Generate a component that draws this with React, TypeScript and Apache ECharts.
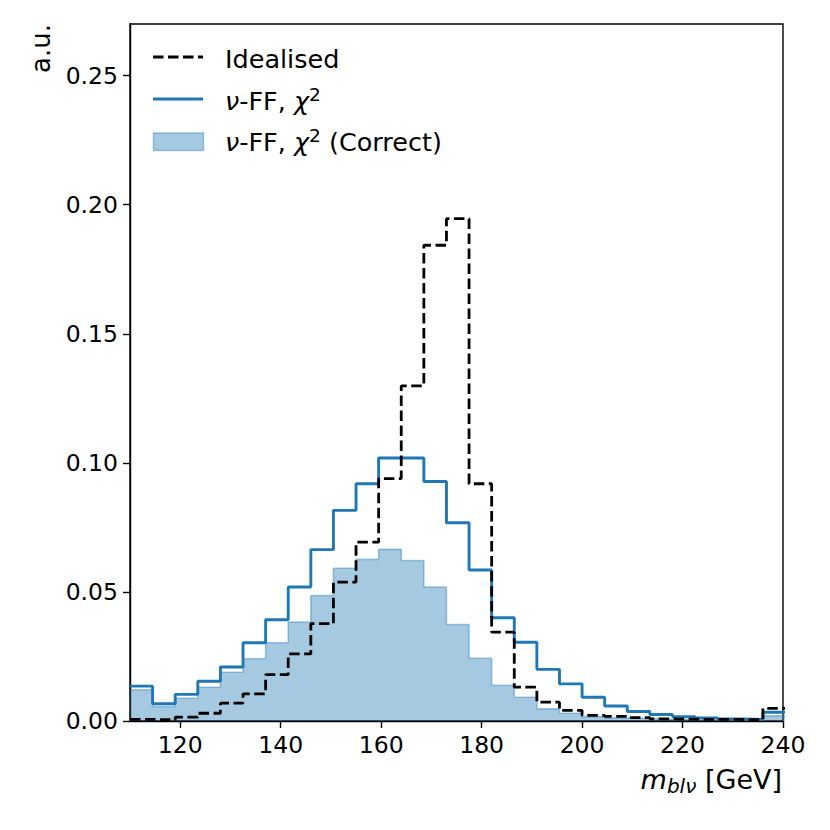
import React, { useEffect, useRef } from "react";
import * as echarts from "echarts";

// Histogram bin edges (GeV) and per-bin heights (a.u.)
const binEdges = [
  110, 114.5, 119, 123.5, 128, 132.5, 137, 141.5, 146, 150.5, 155, 159.5, 164, 168.5, 173,
  177.5, 182, 186.5, 191, 195.5, 200, 204.5, 209, 213.5, 218, 222.5, 227, 231.5, 236, 240.5,
];
const idealised = [
  0.0006, 0.0005, 0.0015, 0.003, 0.0069, 0.0105, 0.018, 0.026, 0.0377, 0.0538, 0.0693, 0.0939,
  0.1298, 0.1843, 0.1946, 0.0919, 0.0344, 0.0131, 0.0073, 0.0041, 0.0022, 0.0018, 0.0013,
  0.0008, 0.0007, 0.0006, 0.0006, 0.0005, 0.0049,
];
const nuFFChi2 = [
  0.0135, 0.0067, 0.0103, 0.0154, 0.0209, 0.0303, 0.0392, 0.0519, 0.0664, 0.0816, 0.0919,
  0.1019, 0.1019, 0.0928, 0.0768, 0.0585, 0.04, 0.0305, 0.02, 0.0144, 0.0092, 0.0058, 0.0037,
  0.0025, 0.0017, 0.0012, 0.0008, 0.0006, 0.0034,
];
const nuFFChi2Correct = [
  0.0121, 0.0056, 0.0088, 0.0131, 0.0189, 0.0241, 0.0303, 0.0383, 0.0486, 0.0592, 0.0626,
  0.0665, 0.0622, 0.0519, 0.0374, 0.0243, 0.0138, 0.0092, 0.0047, 0.003, 0.0017, 0.0012, 0.001,
  0.0008, 0.0006, 0.0005, 0.0004, 0.0004, 0.002,
];
const xTicks = [120, 140, 160, 180, 200, 220, 240];
const yTicks = [0, 0.05, 0.1, 0.15, 0.2, 0.25];

const FONT = '"DejaVu Sans"';
const BLUE = "#1f77b4";
const BLUE_A = "rgba(31,119,180,0.4)";

function stepData(vals: number[]) {
  return binEdges.map((e, i) => [e, vals[Math.min(i, vals.length - 1)]]);
}

type Run = { t: string; size: number; it?: boolean; dy?: number };

function makeRuns(runs: Run[], x: number, y: number, align: "left" | "right") {
  const ctx = document.createElement("canvas").getContext("2d")!;
  const widths = runs.map((r) => {
    ctx.font = `${r.it ? "italic " : ""}${r.size}px ${FONT}`;
    return ctx.measureText(r.t).width;
  });
  const total = widths.reduce((a, b) => a + b, 0);
  let cx = align === "right" ? x - total : x;
  return runs.map((r, i) => {
    const el = {
      type: "text",
      x: cx,
      y: y + (r.dy || 0),
      silent: true,
      style: {
        text: r.t,
        fontSize: r.size,
        fontFamily: FONT,
        fontStyle: r.it ? "italic" : "normal",
        fill: "#000",
        textAlign: "left",
        textVerticalAlign: "middle",
      },
    };
    cx += widths[i];
    return el;
  });
}

export default function App() {
  const ref = useRef<HTMLDivElement>(null);
  useEffect(() => {
    document.body.style.margin = "0";
    const chart = echarts.init(ref.current!, undefined, { renderer: "svg" });
    const LS = 25.5;
    const legendX = 225;
    const rows = [58.5, 100.5, 141.5];
    const nuRuns = (extra: string): Run[] => {
      const r: Run[] = [
        { t: "ν", size: LS, it: true },
        { t: "-FF, ", size: LS },
        { t: "χ", size: LS, it: true },
        { t: "2", size: 18.5, dy: -6.5 },
      ];
      if (extra) r.push({ t: extra, size: LS });
      return r;
    };
    const graphic: any[] = [
      {
        type: "line",
        silent: true,
        shape: { x1: 153, y1: 57, x2: 203, y2: 57 },
        style: { stroke: "#000", lineWidth: 2.8, lineDash: [10.5, 4.5] },
      },
      ...makeRuns([{ t: "Idealised", size: LS }], legendX, rows[0], "left"),
      {
        type: "line",
        silent: true,
        shape: { x1: 153, y1: 99, x2: 203, y2: 99 },
        style: { stroke: BLUE, lineWidth: 2.9 },
      },
      ...makeRuns(nuRuns(""), legendX, rows[1], "left"),
      {
        type: "rect",
        silent: true,
        shape: { x: 153.5, y: 133, width: 50, height: 17.5 },
        style: { fill: BLUE_A, stroke: BLUE_A, lineWidth: 1.5 },
      },
      ...makeRuns(nuRuns(" (Correct)"), legendX, rows[2], "left"),
      ...makeRuns(
        [
          { t: "m", size: 27, it: true },
          { t: "blν", size: 20, it: true, dy: 7 },
          { t: " [GeV]", size: 27 },
        ],
        782,
        779,
        "right"
      ),
      {
        type: "text",
        x: 41,
        y: 24,
        rotation: Math.PI / 2,
        silent: true,
        style: {
          text: "a.u.",
          fontSize: 26,
          fontFamily: FONT,
          fill: "#000",
          textAlign: "right",
          textVerticalAlign: "middle",
        },
      },
    ];

    chart.setOption({
      animation: false,
      backgroundColor: "#fff",
      grid: {
        left: 130,
        right: 47,
        top: 24,
        bottom: 109,
        show: true,
        borderColor: "#000",
        borderWidth: 1.4,
        backgroundColor: "transparent",
      },
      xAxis: {
        type: "value",
        min: 110,
        max: 240,
        splitLine: { show: false },
        axisLine: { show: true, onZero: false, lineStyle: { color: "#000", width: 1.4 } },
        axisTick: {
          show: true,
          length: 7,
          inside: false,
          customValues: xTicks,
          lineStyle: { color: "#000", width: 1.4 },
        },
        axisLabel: {
          show: true,
          customValues: xTicks,
          fontSize: 23.5,
          fontFamily: FONT,
          color: "#000",
          margin: 12,
          formatter: (v: number) => String(v),
        },
      },
      yAxis: {
        type: "value",
        min: 0,
        max: 0.27,
        splitLine: { show: false },
        axisLine: { show: true, onZero: false, lineStyle: { color: "#000", width: 1.4 } },
        axisTick: {
          show: true,
          length: 7,
          inside: false,
          customValues: yTicks,
          lineStyle: { color: "#000", width: 1.4 },
        },
        axisLabel: {
          show: true,
          customValues: yTicks,
          fontSize: 23.5,
          fontFamily: FONT,
          color: "#000",
          margin: 12,
          formatter: (v: number) => v.toFixed(2),
        },
      },
      series: [
        {
          type: "line",
          name: "ν-FF, χ2 (Correct)",
          step: "end",
          data: stepData(nuFFChi2Correct),
          symbol: "none",
          clip: true,
          z: 1,
          lineStyle: { color: BLUE_A, width: 1.6 },
          areaStyle: { color: BLUE_A, opacity: 1 },
          itemStyle: { color: BLUE_A },
        },
        {
          type: "line",
          name: "ν-FF, χ2",
          step: "end",
          data: stepData(nuFFChi2),
          symbol: "none",
          clip: true,
          z: 2,
          lineStyle: { color: BLUE, width: 2.9 },
          itemStyle: { color: BLUE },
        },
        {
          type: "line",
          name: "Idealised",
          step: "end",
          data: stepData(idealised),
          symbol: "none",
          clip: true,
          z: 3,
          lineStyle: { color: "#000", width: 2.8, type: [10.5, 4.5] },
          itemStyle: { color: "#000" },
        },
      ],
      graphic,
    });
    return () => chart.dispose();
  }, []);
  return <div ref={ref} style={{ width: 830, height: 830 }} />;
}
